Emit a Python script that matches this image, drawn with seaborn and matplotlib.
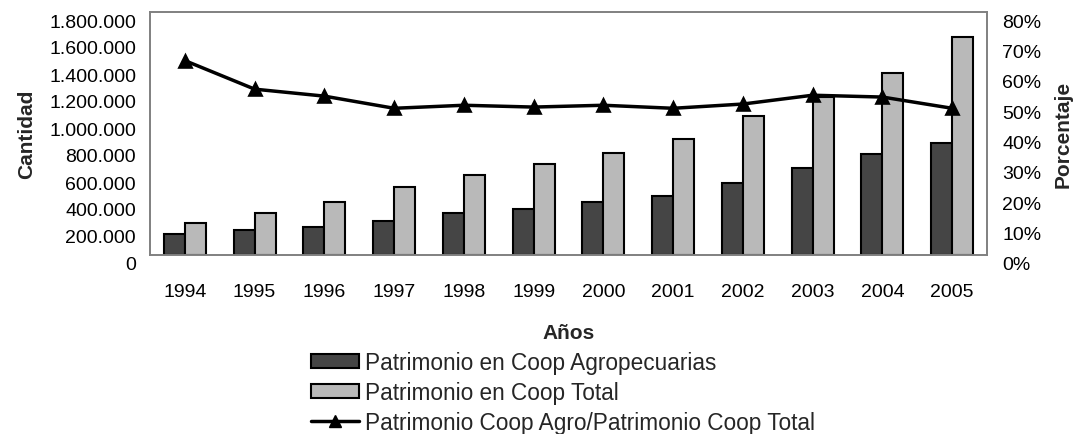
import numpy as np
import pandas as pd
import matplotlib
matplotlib.use("Agg")
import matplotlib.pyplot as plt
import matplotlib.transforms as mtrans
from matplotlib.patches import Patch
from matplotlib.lines import Line2D
from matplotlib.ticker import FuncFormatter, MultipleLocator
import seaborn as sns

# ---- data ----
years = ["1994", "1995", "1996", "1997", "1998", "1999",
         "2000", "2001", "2002", "2003", "2004", "2005"]
patrimonio_agro = [155000, 185000, 207000, 252000, 311000, 341000,
                   393000, 437000, 533000, 644000, 748000, 830000]
patrimonio_total = [237000, 311000, 393000, 504000, 593000, 674000,
                    756000, 859000, 1030000, 1170000, 1348000, 1615000]
porcentaje = [64.0, 54.6, 52.3, 48.3, 49.3, 48.7,
              49.3, 48.3, 49.7, 52.6, 52.0, 48.3]

series_names = ["Patrimonio en Coop Agropecuarias", "Patrimonio en Coop Total"]
line_name = "Patrimonio Coop Agro/Patrimonio Coop Total"

df = pd.DataFrame({
    "Año": years * 2,
    "Valor": patrimonio_agro + patrimonio_total,
    "Serie": [series_names[0]] * len(years) + [series_names[1]] * len(years),
})

dark = "#454545"
light = "#b9b9b9"

sns.set_theme(style="white")
plt.rcParams["font.family"] = ["Liberation Sans", "DejaVu Sans"]

fig = plt.figure(figsize=(10.81, 4.35), dpi=100)
ax = fig.add_axes([150 / 1081, 1 - 256 / 435, (987 - 150) / 1081, (256 - 13) / 435])

sns.barplot(data=df, x="Año", y="Valor", hue="Serie", order=years,
            hue_order=series_names, palette=[dark, light], width=0.6,
            edgecolor="black", linewidth=1.5, saturation=1, ax=ax,
            legend=False)
ax.set_ylim(0, 1800000)
ax.yaxis.set_major_locator(MultipleLocator(200000))
ax.yaxis.set_major_formatter(FuncFormatter(lambda v, p: f"{int(round(v)):,}".replace(",", ".")))
ax.set_xlim(-0.5, len(years) - 0.5)

ax2 = ax.twinx()
sns.pointplot(x=years, y=porcentaje, order=years, color="black",
              markers="^", linestyles="-", ax=ax2, errorbar=None,
              markersize=9, linewidth=2.5)
ax2.set_ylim(0, 80)
ax2.yaxis.set_major_locator(MultipleLocator(10))
ax2.yaxis.set_major_formatter(FuncFormatter(lambda v, p: f"{int(round(v))}%"))
ax2.set_xlim(-0.5, len(years) - 0.5)

for a in (ax, ax2):
    for s in a.spines.values():
        s.set_color("#808080")
        s.set_linewidth(1.2)
    a.tick_params(length=0, labelsize=14, colors="black")
    a.grid(False)

ax.tick_params(axis="x", pad=20)
ax.tick_params(axis="y", pad=10)
ax2.tick_params(axis="y", pad=11)

ax.set_xlabel("Años", fontsize=15, fontweight="bold", labelpad=17)
ax.set_ylabel("Cantidad", fontsize=15, fontweight="bold", labelpad=9)
ax2.set_ylabel("Porcentaje", fontsize=15, fontweight="bold", labelpad=9)
ax2.set_xlabel("")

# legend
handles = [
    Patch(facecolor=dark, edgecolor="black", linewidth=1.5),
    Patch(facecolor=light, edgecolor="black", linewidth=1.5),
    Line2D([], [], color="black", linewidth=2.5, marker="^", markersize=9),
]
labels = series_names + [line_name]
fig.legend(handles, labels, loc="upper left",
           bbox_to_anchor=(302 / 1081, 1 - 343 / 435),
           frameon=False, fontsize=16.3, handlelength=2.1, handleheight=0.55,
           handletextpad=0.3, labelspacing=0.3, borderaxespad=0)

# shift value-axis labels slightly downward as in the reference
offset = mtrans.ScaledTranslation(0, -8 / 100, fig.dpi_scale_trans)
fig.canvas.draw()
for a in (ax, ax2):
    for lbl in a.get_yticklabels():
        lbl.set_transform(lbl.get_transform() + offset)

fig.savefig("out.png", dpi=100)
